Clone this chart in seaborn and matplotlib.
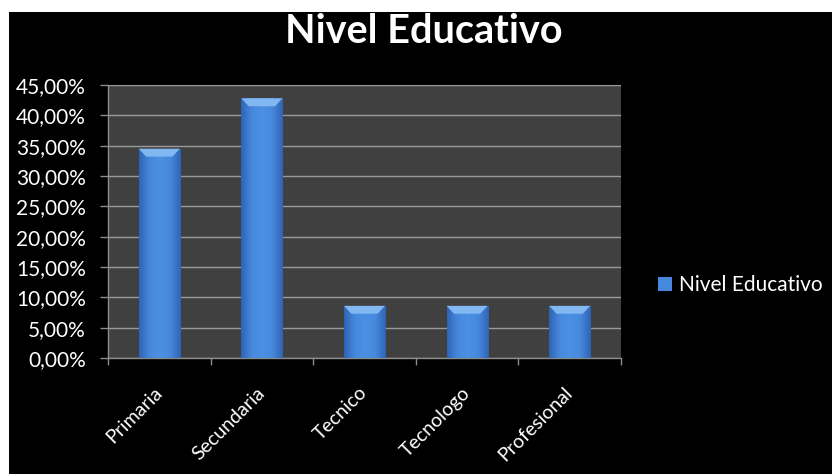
import matplotlib
matplotlib.use("Agg")
import matplotlib.pyplot as plt
import seaborn as sns
import numpy as np
import pandas as pd
from matplotlib.patches import Rectangle
from matplotlib.ticker import FuncFormatter, MultipleLocator
from matplotlib.colors import LinearSegmentedColormap

categories = ["Primaria", "Secundaria", "Tecnico", "Tecnologo", "Profesional"]
values = [34.5, 42.8, 8.6, 8.6, 8.6]
series_name = "Nivel Educativo"
title = "Nivel Educativo"

sns.set_theme(style="dark")
plt.rcParams['font.family'] = ['Lato', 'DejaVu Sans']

df = pd.DataFrame({"cat": categories, "val": values})

fig = plt.figure(figsize=(8.32, 4.74), dpi=100, facecolor="white")
fig.patches.append(Rectangle((9 / 832, 0), 1, (474 - 12) / 474, transform=fig.transFigure,
                             facecolor="black", edgecolor="none", zorder=-10))
ax = fig.add_axes([108 / 832, 1 - 358 / 474, (621 - 108) / 832, (358 - 85) / 474])
ax.set_facecolor("#404040")

sns.barplot(data=df, x="cat", y="val", ax=ax, color="#3d7ad4", width=0.4,
            saturation=1, edgecolor="none", zorder=3)

# gradient fill for bars
cmap = LinearSegmentedColormap.from_list("barg", ["#2f63b4", "#4688dc", "#4c90e4", "#4688dc", "#2f63b4"])
grad = np.linspace(0, 1, 256).reshape(1, -1)
for p in ax.patches:
    x0, y0 = p.get_x(), p.get_y()
    w, h = p.get_width(), p.get_height()
    im = ax.imshow(grad, extent=[x0, x0 + w, y0, y0 + h], aspect="auto", cmap=cmap,
                   zorder=4, origin="lower")
    im.set_clip_path(p)
    # top bevel highlight
    ax.add_patch(plt.Polygon([[x0, y0 + h], [x0 + w, y0 + h],
                              [x0 + w * 0.82, y0 + h - 1.3], [x0 + w * 0.18, y0 + h - 1.3]],
                             closed=True, facecolor="#82b8f2", edgecolor="none", zorder=5))

ax.set_xlim(-0.5, len(categories) - 0.5)
ax.set_ylim(0, 45)
ax.yaxis.set_major_locator(MultipleLocator(5))
ax.yaxis.set_major_formatter(FuncFormatter(lambda v, pos: f"{v:.2f}%".replace(".", ",")))
ax.grid(axis="y", color="#9a9a9a", linewidth=1.0, zorder=1)
ax.grid(axis="x", visible=False)
ax.set_xlabel("")
ax.set_ylabel("")

for s in ["top", "right"]:
    ax.spines[s].set_visible(False)
for s in ["left", "bottom"]:
    ax.spines[s].set_visible(True)
    ax.spines[s].set_color("#8c8c8c")
    ax.spines[s].set_linewidth(1.0)

ax.tick_params(axis="y", colors="#8c8c8c", labelcolor="white", labelsize=15,
               length=6, width=1, direction="out", left=True, pad=10)
ax.set_xticks(range(len(categories)))
ax.set_xticklabels(categories, rotation=45, ha="right", va="center",
                   rotation_mode="anchor", color="white", fontsize=14)
ax.tick_params(axis="x", which="major", length=0, pad=23)
ax.set_xticks(np.arange(-0.5, len(categories), 1.0), minor=True)
ax.tick_params(axis="x", which="minor", length=5, width=1, color="#8c8c8c",
               direction="out", bottom=True)

fig.text(0.509, 1 - 43 / 474, title, ha="center", va="baseline", color="white",
         fontsize=28.5, fontweight="bold")

handle = Rectangle((0, 0), 1, 1, facecolor="#4688dc", edgecolor="none")
fig.legend([handle], [series_name], loc="center left", bbox_to_anchor=(658 / 832, 1 - 285 / 474),
           frameon=False, fontsize=15, labelcolor="white", handlelength=0.65,
           handleheight=0.65, handletextpad=0.35, borderaxespad=0, borderpad=0)

fig.savefig("out.png", dpi=100, facecolor=fig.get_facecolor())
